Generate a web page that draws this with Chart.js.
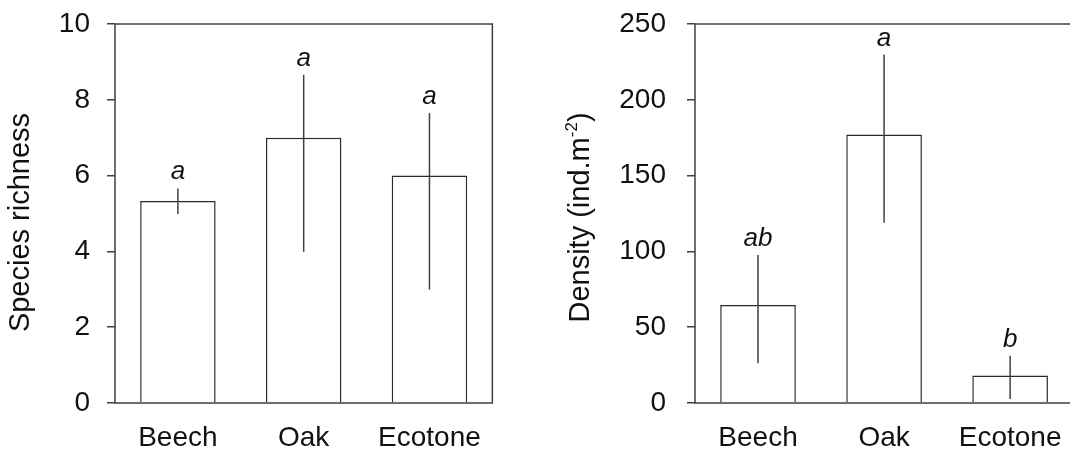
<!DOCTYPE html>
<html>
<head>
<meta charset="utf-8">
<script src="https://cdn.jsdelivr.net/npm/chart.js@4.4.1/dist/chart.umd.min.js"></script>
<style>
    html, body { margin: 0; padding: 0; background: #fff; overflow: hidden; }
    .panel { position: absolute; top: 0; height: 450px; }
    #left-panel { left: 0; width: 500px; }
    #right-panel { left: 560px; width: 520px; }
</style>
</head>
<body>
<div class="panel" id="left-panel"><canvas id="richness-chart"></canvas></div>
<div class="panel" id="right-panel"><canvas id="density-chart"></canvas></div>
<script>
'use strict';

const sites = ['Beech', 'Oak', 'Ecotone'];

// species richness (left panel)
const richnessMean = [5.33, 7.0, 6.0];
const richnessUpper = [5.66, 8.66, 7.65];
const richnessLower = [4.99, 3.99, 2.99];
const richnessLetters = ['a', 'a', 'a'];
const richnessTicks = [0, 2, 4, 6, 8, 10];

// density (right panel)
const densityMean = [64.6, 177.1, 18.2];
const densityUpper = [97.6, 229.8, 31.2];
const densityLower = [26.2, 118.9, 2.6];
const densityLetters = ['ab', 'a', 'b'];
const densityTicks = [0, 50, 100, 150, 200, 250];

const FONT = "'Liberation Sans', Arial, sans-serif";
const INK = '#111';
const LINE = '#404040';


function makeErrorBars(upper, lower, letters) {
    return {
        id: 'errorBars',
        afterDatasetsDraw(chart) {
            const ctx = chart.ctx;
            const xs = chart.scales.x;
            const ys = chart.scales.y;
            ctx.save();
            ctx.strokeStyle = LINE;
            ctx.lineWidth = 1.5;
            ctx.fillStyle = INK;
            ctx.font = 'italic 26px ' + FONT;
            ctx.textAlign = 'center';
            ctx.textBaseline = 'alphabetic';
            upper.forEach((hi, i) => {
                const x = xs.getPixelForValue(i);
                const yHi = ys.getPixelForValue(hi);
                const yLo = ys.getPixelForValue(lower[i]);
                ctx.beginPath();
                ctx.moveTo(x, yHi);
                ctx.lineTo(x, yLo);
                ctx.stroke();
                ctx.fillText(letters[i], x, yHi - 9);   // significance letter
            });
            ctx.restore();
        }
    };
}

function makeFrame() {
    return {
        id: 'frame',
        afterDraw(chart) {
            const { left, right, top, bottom } = chart.chartArea;
            const ctx = chart.ctx;
            ctx.save();
            ctx.strokeStyle = LINE;
            ctx.lineWidth = 1.5;
            ctx.strokeRect(left, top, right - left, bottom - top);
            ctx.restore();
        }
    };
}

function makeAxisTitle(parts, baselineX, shiftY) {
    return {
        id: 'axisTitle',
        afterDraw(chart) {
            const ctx = chart.ctx;
            const { top, bottom } = chart.chartArea;
            const mainFont = '29px ' + FONT;
            const supFont = '17px ' + FONT;
            ctx.save();
            ctx.fillStyle = INK;
            ctx.textBaseline = 'alphabetic';
            ctx.textAlign = 'left';
            let total = 0;
            parts.forEach(p => {
                ctx.font = p.sup ? supFont : mainFont;
                p.w = ctx.measureText(p.text).width;
                total += p.w;
            });
            ctx.translate(baselineX, (top + bottom) / 2 + shiftY);
            ctx.rotate(-Math.PI / 2);
            let x = -total / 2;
            parts.forEach(p => {
                ctx.font = p.sup ? supFont : mainFont;
                ctx.fillText(p.text, x, p.sup ? -12 : 0);
                x += p.w;
            });
            ctx.restore();
        }
    };
}


function createPanel(canvasId, cfg) {
    const ctx = document.getElementById(canvasId).getContext('2d');

    return new Chart(ctx, {
        type: 'bar',
        data: {
            labels: sites,
            datasets: [{
                data: cfg.mean,
                backgroundColor: '#fff',
                borderColor: '#2a2a2a',
                borderWidth: 1.5,
                barPercentage: 0.6,
                categoryPercentage: 1.0
            }]
        },
        options: {
            responsive: true,
            maintainAspectRatio: false,
            animation: false,
            layout: {
                padding: { left: 0, right: cfg.padRight, top: 24, bottom: 0 }
            },
            plugins: {
                legend: { display: false },
                tooltip: { enabled: false }
            },
            scales: {
                x: {
                    grid: { display: false, drawTicks: false },
                    border: { display: false },
                    afterFit: (s) => { s.height = 47; },
                    ticks: {
                        padding: 18,
                        color: INK,
                        font: { family: FONT, size: 28 }
                    }
                },
                y: {
                    min: 0,
                    max: cfg.ticks[cfg.ticks.length - 1],
                    afterBuildTicks: (s) => {
                        s.ticks = cfg.ticks.map(v => ({ value: v }));
                    },
                    afterFit: (s) => {
                        s.width = cfg.yWidth;
                        s.paddingTop = 0;      // keep the plot top at the layout padding
                        s.paddingBottom = 0;
                    },
                    grid: {
                        drawOnChartArea: false,
                        drawTicks: true,
                        tickLength: 8,
                        color: LINE,
                        lineWidth: 1.5
                    },
                    border: { display: false },
                    ticks: {
                        padding: cfg.tickPad,
                        color: INK,
                        font: { family: FONT, size: 28 }
                    }
                }
            }
        },
        plugins: [
            makeErrorBars(cfg.upper, cfg.lower, cfg.letters),
            makeFrame(),
            makeAxisTitle(cfg.title, 29, cfg.titleShift)
        ]
    });
}


createPanel('richness-chart', {
    mean: richnessMean,
    upper: richnessUpper,
    lower: richnessLower,
    letters: richnessLetters,
    ticks: richnessTicks,
    yWidth: 115,
    tickPad: 17,
    padRight: 7,
    title: [{ text: 'Species richness' }],
    titleShift: 9
});

createPanel('density-chart', {
    mean: densityMean,
    upper: densityUpper,
    lower: densityLower,
    letters: densityLetters,
    ticks: densityTicks,
    yWidth: 135,
    tickPad: 21,
    padRight: 3,
    title: [{ text: 'Density (ind.m' }, { text: '-2', sup: true }, { text: ')' }],
    titleShift: 4
});
</script>
</body>
</html>
